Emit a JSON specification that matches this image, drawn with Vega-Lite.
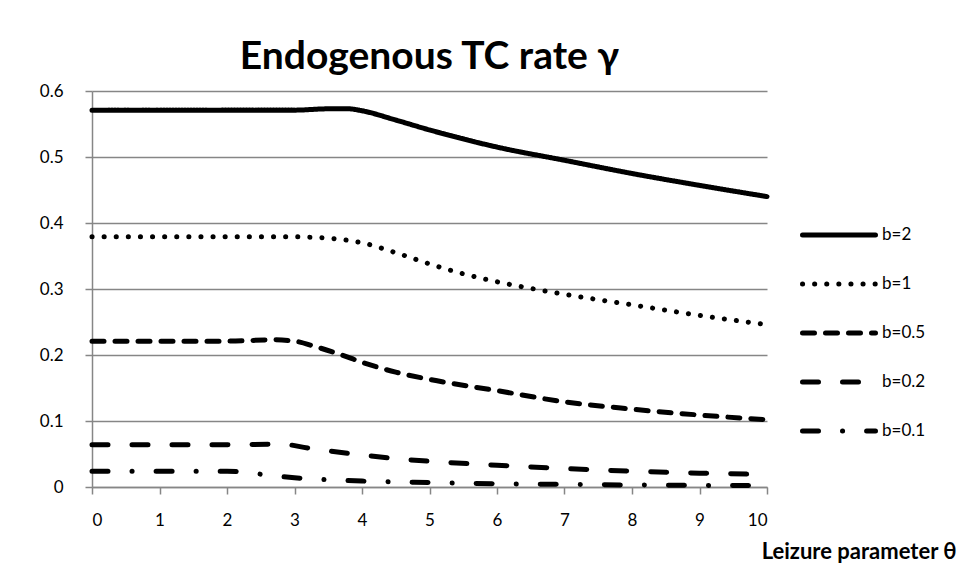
{
  "$schema": "https://vega.github.io/schema/vega-lite/v6.json",
  "width": 675,
  "height": 396,
  "autosize": {"type": "none"},
  "padding": {"left": 92, "top": 91, "right": 192, "bottom": 92},
  "background": "white",
  "title": {
    "text": "Endogenous TC rate γ",
    "font": "Lato",
    "fontSize": 39,
    "fontWeight": "bold",
    "color": "#000000",
    "anchor": "middle",
    "baseline": "alphabetic",
    "offset": -26
  },
  "data": {
    "values": [
      {"theta": 0, "gamma": 0.571, "b": "b=2"},
      {"theta": 1, "gamma": 0.571, "b": "b=2"},
      {"theta": 2, "gamma": 0.571, "b": "b=2"},
      {"theta": 3, "gamma": 0.571, "b": "b=2"},
      {"theta": 3.5, "gamma": 0.573, "b": "b=2"},
      {"theta": 3.8, "gamma": 0.573, "b": "b=2"},
      {"theta": 4, "gamma": 0.570, "b": "b=2"},
      {"theta": 4.5, "gamma": 0.556, "b": "b=2"},
      {"theta": 5, "gamma": 0.541, "b": "b=2"},
      {"theta": 6, "gamma": 0.515, "b": "b=2"},
      {"theta": 7, "gamma": 0.495, "b": "b=2"},
      {"theta": 8, "gamma": 0.475, "b": "b=2"},
      {"theta": 9, "gamma": 0.457, "b": "b=2"},
      {"theta": 10, "gamma": 0.440, "b": "b=2"},
      {"theta": 0, "gamma": 0.379, "b": "b=1"},
      {"theta": 1, "gamma": 0.379, "b": "b=1"},
      {"theta": 2, "gamma": 0.379, "b": "b=1"},
      {"theta": 3, "gamma": 0.379, "b": "b=1"},
      {"theta": 3.5, "gamma": 0.377, "b": "b=1"},
      {"theta": 4, "gamma": 0.370, "b": "b=1"},
      {"theta": 4.5, "gamma": 0.355, "b": "b=1"},
      {"theta": 5, "gamma": 0.338, "b": "b=1"},
      {"theta": 5.5, "gamma": 0.323, "b": "b=1"},
      {"theta": 6, "gamma": 0.311, "b": "b=1"},
      {"theta": 7, "gamma": 0.292, "b": "b=1"},
      {"theta": 8, "gamma": 0.276, "b": "b=1"},
      {"theta": 9, "gamma": 0.260, "b": "b=1"},
      {"theta": 10, "gamma": 0.246, "b": "b=1"},
      {"theta": 0, "gamma": 0.221, "b": "b=0.5"},
      {"theta": 1, "gamma": 0.221, "b": "b=0.5"},
      {"theta": 2, "gamma": 0.221, "b": "b=0.5"},
      {"theta": 2.7, "gamma": 0.223, "b": "b=0.5"},
      {"theta": 3, "gamma": 0.221, "b": "b=0.5"},
      {"theta": 3.3, "gamma": 0.213, "b": "b=0.5"},
      {"theta": 3.7, "gamma": 0.200, "b": "b=0.5"},
      {"theta": 4, "gamma": 0.189, "b": "b=0.5"},
      {"theta": 4.5, "gamma": 0.174, "b": "b=0.5"},
      {"theta": 5, "gamma": 0.163, "b": "b=0.5"},
      {"theta": 6, "gamma": 0.146, "b": "b=0.5"},
      {"theta": 7, "gamma": 0.129, "b": "b=0.5"},
      {"theta": 8, "gamma": 0.118, "b": "b=0.5"},
      {"theta": 9, "gamma": 0.109, "b": "b=0.5"},
      {"theta": 10, "gamma": 0.102, "b": "b=0.5"},
      {"theta": 0, "gamma": 0.064, "b": "b=0.2"},
      {"theta": 1, "gamma": 0.064, "b": "b=0.2"},
      {"theta": 2, "gamma": 0.064, "b": "b=0.2"},
      {"theta": 2.8, "gamma": 0.065, "b": "b=0.2"},
      {"theta": 3.2, "gamma": 0.059, "b": "b=0.2"},
      {"theta": 3.8, "gamma": 0.051, "b": "b=0.2"},
      {"theta": 4.5, "gamma": 0.043, "b": "b=0.2"},
      {"theta": 5, "gamma": 0.039, "b": "b=0.2"},
      {"theta": 6, "gamma": 0.033, "b": "b=0.2"},
      {"theta": 7, "gamma": 0.028, "b": "b=0.2"},
      {"theta": 8, "gamma": 0.024, "b": "b=0.2"},
      {"theta": 9, "gamma": 0.021, "b": "b=0.2"},
      {"theta": 10, "gamma": 0.019, "b": "b=0.2"},
      {"theta": 0, "gamma": 0.024, "b": "b=0.1"},
      {"theta": 1, "gamma": 0.024, "b": "b=0.1"},
      {"theta": 2, "gamma": 0.024, "b": "b=0.1"},
      {"theta": 2.3, "gamma": 0.022, "b": "b=0.1"},
      {"theta": 2.6, "gamma": 0.018, "b": "b=0.1"},
      {"theta": 3, "gamma": 0.014, "b": "b=0.1"},
      {"theta": 3.5, "gamma": 0.011, "b": "b=0.1"},
      {"theta": 4, "gamma": 0.009, "b": "b=0.1"},
      {"theta": 5, "gamma": 0.0068, "b": "b=0.1"},
      {"theta": 6, "gamma": 0.005, "b": "b=0.1"},
      {"theta": 7, "gamma": 0.004, "b": "b=0.1"},
      {"theta": 8, "gamma": 0.003, "b": "b=0.1"},
      {"theta": 9, "gamma": 0.0025, "b": "b=0.1"},
      {"theta": 10, "gamma": 0.002, "b": "b=0.1"}
    ]
  },
  "mark": {"type": "line", "interpolate": "monotone", "strokeWidth": 5, "strokeCap": "round", "color": "#000000", "clip": false},
  "encoding": {
    "x": {
      "field": "theta",
      "type": "quantitative",
      "scale": {"domain": [0, 10], "nice": false},
      "axis": {
        "values": [0, 1, 2, 3, 4, 5, 6, 7, 8, 9, 10],
        "format": "d",
        "grid": false,
        "labelPadding": 18,
        "title": "Leizure parameter θ",
        "titleFont": "Lato",
        "titleFontWeight": "bold",
        "titleFontSize": 22,
        "titleColor": "#000000",
        "titleAnchor": "end",
        "titleAlign": "right",
        "titleBaseline": "alphabetic",
        "titleX": 864,
        "titleY": 71
      }
    },
    "y": {
      "field": "gamma",
      "type": "quantitative",
      "scale": {"domain": [0, 0.6], "nice": false},
      "axis": {
        "values": [0, 0.1, 0.2, 0.3, 0.4, 0.5, 0.6],
        "format": "~g",
        "grid": true,
        "labelPadding": 22,
        "title": null
      }
    },
    "strokeDash": {
      "field": "b",
      "type": "nominal",
      "scale": {
        "domain": ["b=2", "b=1", "b=0.5", "b=0.2", "b=0.1"],
        "range": [[1, 0], [0.1, 12], [12, 11], [16, 24], [16, 24, 0.1, 24]]
      },
      "legend": {
        "title": null,
        "orient": "none",
        "legendX": 708,
        "legendY": 105,
        "symbolType": "stroke",
        "symbolSize": 5329,
        "symbolStrokeWidth": 5,
        "symbolStrokeColor": "#000000",
        "labelFont": "Lato",
        "labelFontSize": 17,
        "labelColor": "#000000",
        "labelOffset": 4,
        "rowPadding": 0,
        "encode": {"symbols": {"update": {"strokeCap": {"value": "round"}}}}
      }
    }
  },
  "config": {
    "view": {"stroke": null},
    "axis": {
      "domainColor": "#868686",
      "domainWidth": 1.5,
      "gridColor": "#868686",
      "gridWidth": 1.5,
      "tickColor": "#868686",
      "tickWidth": 1.5,
      "tickSize": 7,
      "labelFont": "Lato",
      "labelFontSize": 17,
      "labelColor": "#000000"
    }
  }
}
